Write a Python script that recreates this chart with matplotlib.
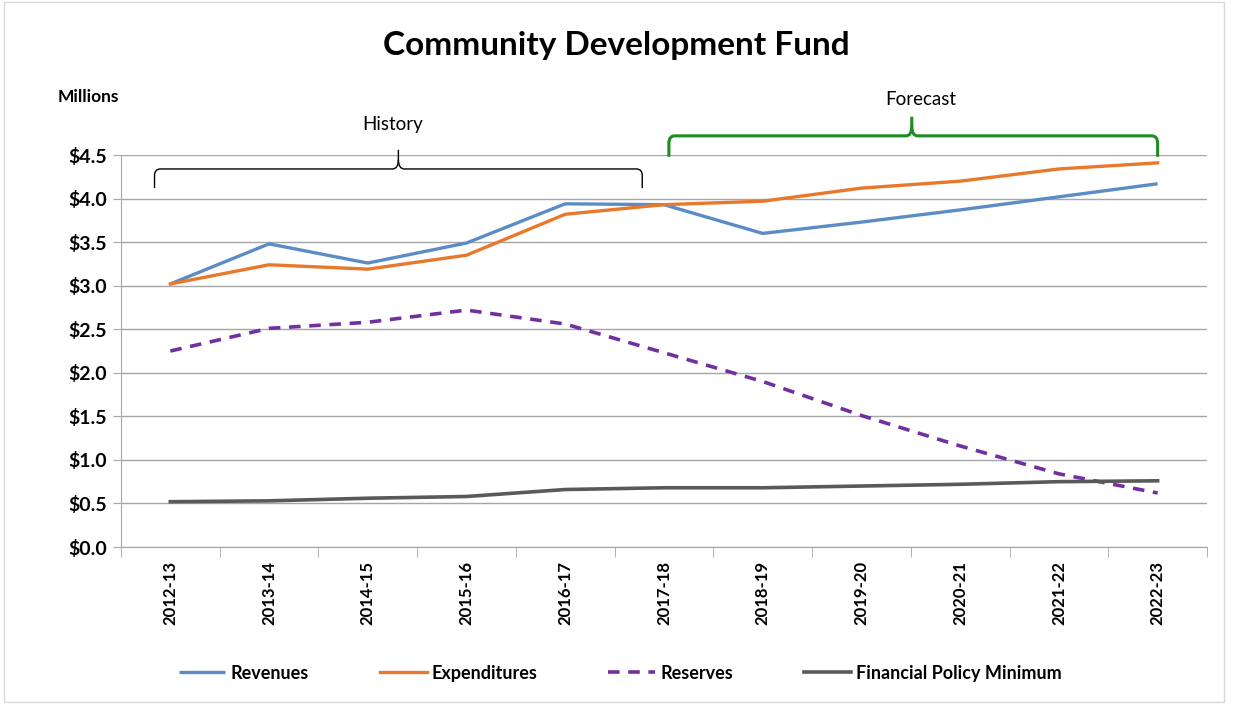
import matplotlib
matplotlib.use("Agg")
import matplotlib.pyplot as plt
from matplotlib.path import Path
from matplotlib.patches import PathPatch, Rectangle
from matplotlib.ticker import FuncFormatter, MultipleLocator, FixedLocator

years = ["2012-13", "2013-14", "2014-15", "2015-16", "2016-17", "2017-18",
         "2018-19", "2019-20", "2020-21", "2021-22", "2022-23"]
revenues = [3.02, 3.48, 3.26, 3.49, 3.94, 3.93, 3.60, 3.73, 3.87, 4.02, 4.17]
expenditures = [3.02, 3.24, 3.19, 3.35, 3.82, 3.93, 3.97, 4.12, 4.20, 4.34, 4.41]
reserves = [2.25, 2.51, 2.58, 2.72, 2.56, 2.23, 1.90, 1.51, 1.16, 0.84, 0.62]
policy_min = [0.52, 0.53, 0.56, 0.58, 0.66, 0.68, 0.68, 0.70, 0.72, 0.75, 0.76]

plt.rcParams['font.family'] = ['Lato', 'DejaVu Sans']

fig = plt.figure(figsize=(12.33, 7.04), dpi=100)
fig.patches.append(Rectangle((0.003, 0.003), 0.99, 0.994, transform=fig.transFigure,
                             fill=False, edgecolor="#d9d9d9", linewidth=1.0))
ax = fig.add_axes([0.0981, 0.2230, 0.8808, 0.5568])

x = list(range(len(years)))
ax.plot(x, revenues, color="#5B8CC6", lw=2.4, label="Revenues", solid_capstyle="butt")
ax.plot(x, expenditures, color="#E8782B", lw=2.4, label="Expenditures")
ax.plot(x, reserves, color="#7030A0", lw=2.6, ls=(0, (3.2, 2.4)), label="Reserves")
ax.plot(x, policy_min, color="#595959", lw=2.6, label="Financial Policy Minimum")

ax.set_xlim(-0.5, len(years) - 0.5)
ax.set_ylim(0, 4.5)
ax.yaxis.set_major_locator(MultipleLocator(0.5))
ax.yaxis.set_major_formatter(FuncFormatter(lambda v, p: f"${v:.1f}"))
ax.set_xticks(x)
ax.set_xticklabels(years, rotation=90, fontweight="bold", fontsize=12)
ax.xaxis.set_minor_locator(FixedLocator([i - 0.5 for i in range(len(years) + 1)]))
ax.tick_params(axis="x", which="major", length=0, pad=10)
ax.tick_params(axis="x", which="minor", length=7, color="#a6a6a6", direction="out")
ax.tick_params(axis="y", length=6, color="#a6a6a6", labelsize=14, pad=4)
for lab in ax.get_yticklabels():
    lab.set_fontweight("bold")
ax.grid(axis="y", color="#a6a6a6", lw=1.0)
ax.set_axisbelow(True)
for s in ["top", "right"]:
    ax.spines[s].set_visible(False)
for s in ["left", "bottom"]:
    ax.spines[s].set_color("#a6a6a6")

fig.text(0.5, 0.935, "Community Development Fund", ha="center", va="center",
         fontsize=24, fontweight="bold")
fig.text(0.047, 0.862, "Millions", ha="left", va="center", fontsize=12.5, fontweight="bold")


def brace(x0, x1, xm, y_end, y_line, y_tip, color, lw):
    r = 0.06
    ry = (y_line - y_end) * 0.35
    verts = [
        (x0, y_end), (x0, y_line - ry), (x0, y_line), (x0 + r, y_line),
        (xm - r, y_line), (xm, y_line), (xm, y_line + (y_tip - y_line) * 0.5),
        (xm, y_tip),
    ]
    codes = [Path.MOVETO, Path.LINETO, Path.CURVE3, Path.CURVE3,
             Path.LINETO, Path.CURVE3, Path.CURVE3, Path.LINETO]
    verts2 = [
        (x1, y_end), (x1, y_line - ry), (x1, y_line), (x1 - r, y_line),
        (xm + r, y_line), (xm, y_line), (xm, y_line + (y_tip - y_line) * 0.5),
    ]
    codes2 = [Path.MOVETO, Path.LINETO, Path.CURVE3, Path.CURVE3,
              Path.LINETO, Path.CURVE3, Path.CURVE3]
    for v, c in ((verts, codes), (verts2, codes2)):
        ax.add_patch(PathPatch(Path(v, c), fill=False, edgecolor=color, lw=lw,
                               clip_on=False, capstyle="butt", joinstyle="round"))


brace(-0.16, 4.78, 2.31, 4.12, 4.34, 4.56, "black", 1.0)
ax.text(2.25, 4.85, "History", ha="center", va="center", fontsize=13.5, clip_on=False)
brace(5.05, 10.0, 7.51, 4.48, 4.72, 4.94, "#1E8C1E", 2.2)
ax.text(7.6, 5.14, "Forecast", ha="center", va="center", fontsize=13.5, clip_on=False)

leg = fig.legend(loc="center", bbox_to_anchor=(0.503, 0.044), ncol=4, frameon=False,
                 prop={"weight": "bold", "size": 13}, handlelength=2.6,
                 columnspacing=3.9, handletextpad=0.3)

fig.savefig("out.png", dpi=100)
